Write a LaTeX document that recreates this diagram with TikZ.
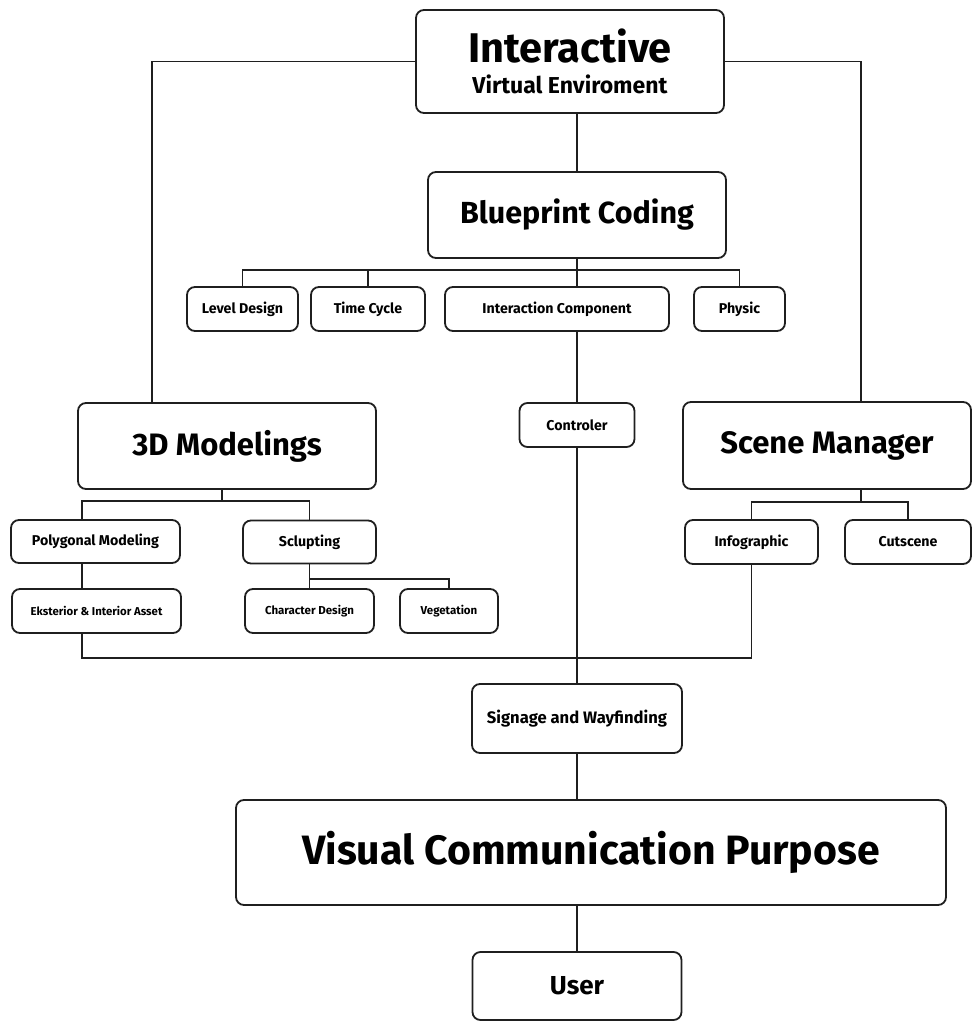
\documentclass[tikz,border=0pt]{standalone}
\usepackage{fontspec}
\setmainfont{Fira Sans}
\begin{document}
\begin{tikzpicture}[x=1pt,y=-1pt,
  box/.style={draw=black!88, line width=1.8pt, rounded corners=8pt, inner sep=0pt, align=center, font=\bfseries},
  wire/.style={draw=black!88, line width=1.8pt},
  fs/.style={font=\bfseries\fontsize{#1}{#1}\selectfont}]
\useasboundingbox (0,0) rectangle (972,1021);
% main nodes
\node[box, font=\bfseries\fontsize{23}{31}\selectfont, minimum width=308pt, minimum height=103pt] (intv) at (570,61.5)
  {{\fontsize{41.5}{31}\selectfont Interactive}\\Virtual Enviroment};
\node[box, fs=30.5, minimum width=298pt, minimum height=86pt] (bp) at (577,215) {Blueprint Coding};
\node[box, fs=14.2, minimum width=111pt, minimum height=44pt] (ld) at (242.5,309) {Level Design};
\node[box, fs=14.2, minimum width=114pt, minimum height=44pt] (tc) at (368,309) {Time Cycle};
\node[box, fs=14.2, minimum width=224pt, minimum height=44pt] (ic) at (557,309) {Interaction Component};
\node[box, fs=14.2, minimum width=91pt, minimum height=44pt] (ph) at (739.5,309) {Physic};
\node[box, fs=31, minimum width=298pt, minimum height=86pt] (mod) at (227,446) {3D Modelings};
\node[box, fs=14.2, minimum width=115pt, minimum height=44pt] (ctl) at (577,425) {Controler};
\node[box, fs=31, minimum width=288pt, minimum height=87pt] (sm) at (827,445.5) {Scene Manager};
\node[box, fs=14.2, minimum width=169pt, minimum height=43pt] (pm) at (95.5,541.5) {Polygonal Modeling};
\node[box, fs=14.2, minimum width=133pt, minimum height=43pt] (sc) at (309.5,542) {Sclupting};
\node[box, fs=11.4, minimum width=169pt, minimum height=44pt] (ea) at (96.5,611) {Eksterior \& Interior Asset};
\node[box, fs=11.5, minimum width=129pt, minimum height=44pt] (cd) at (309.5,611) {Character Design};
\node[box, fs=11.5, minimum width=98pt, minimum height=44pt] (veg) at (449,611) {Vegetation};
\node[box, fs=14.2, minimum width=133pt, minimum height=44pt] (info) at (751.5,542) {Infographic};
\node[box, fs=14.2, minimum width=126pt, minimum height=44pt] (cut) at (908,542) {Cutscene};
\node[box, fs=16.6, minimum width=210pt, minimum height=69pt] (sig) at (577,718.5) {Signage and Wayfinding};
\node[box, fs=41, minimum width=710pt, minimum height=105pt] (vcp) at (591,852.5) {Visual Communication Purpose};
\node[box, fs=26, minimum width=209pt, minimum height=68pt] (user) at (577,986) {User};
% helper coordinates
\coordinate (xa) at (152,0);
\coordinate (xb) at (861,0);
\coordinate (xm) at (222,0);
\coordinate (xp) at (82,0);
\coordinate (busA) at (0,270);
\coordinate (busB) at (0,501);
\coordinate (busC) at (0,579);
\coordinate (busD) at (0,502);
\coordinate (yb) at (0,658);
% connectors
\draw[wire] (intv.west) -| (xa |- mod.north);
\draw[wire] (intv.east) -| (xb |- sm.north);
\draw[wire] (intv.south -| bp.north) -- (bp.north);
\draw[wire] (bp.south) -- (bp.south |- ic.north);
\draw[wire] (ld.north) |- (busA -| ph.north) -- (ph.north);
\draw[wire] (tc.north) -- (tc.north |- busA);
\draw[wire] (ic.south -| ctl.north) -- (ctl.north);
\draw[wire] (ctl.south) -- (sig.north);
\draw[wire] (xm |- mod.south) -- (xm |- busB);
\draw[wire] (xp |- pm.north) |- (busB -| sc.north) -- (sc.north);
\draw[wire] (xp |- pm.south) -- (xp |- ea.north);
\draw[wire] (xp |- ea.south) |- (info.south |- yb) -- (info.south);
\draw[wire] (sc.south) -- (cd.north);
\draw[wire] (sc.south |- busC) -| (veg.north);
\draw[wire] (xb |- sm.south) -- (xb |- busD);
\draw[wire] (info.north) |- (busD -| cut.north) -- (cut.north);
\draw[wire] (sig.south) -- (sig.south |- vcp.north);
\draw[wire] (vcp.south -| user.north) -- (user.north);
\end{tikzpicture}
\end{document}
